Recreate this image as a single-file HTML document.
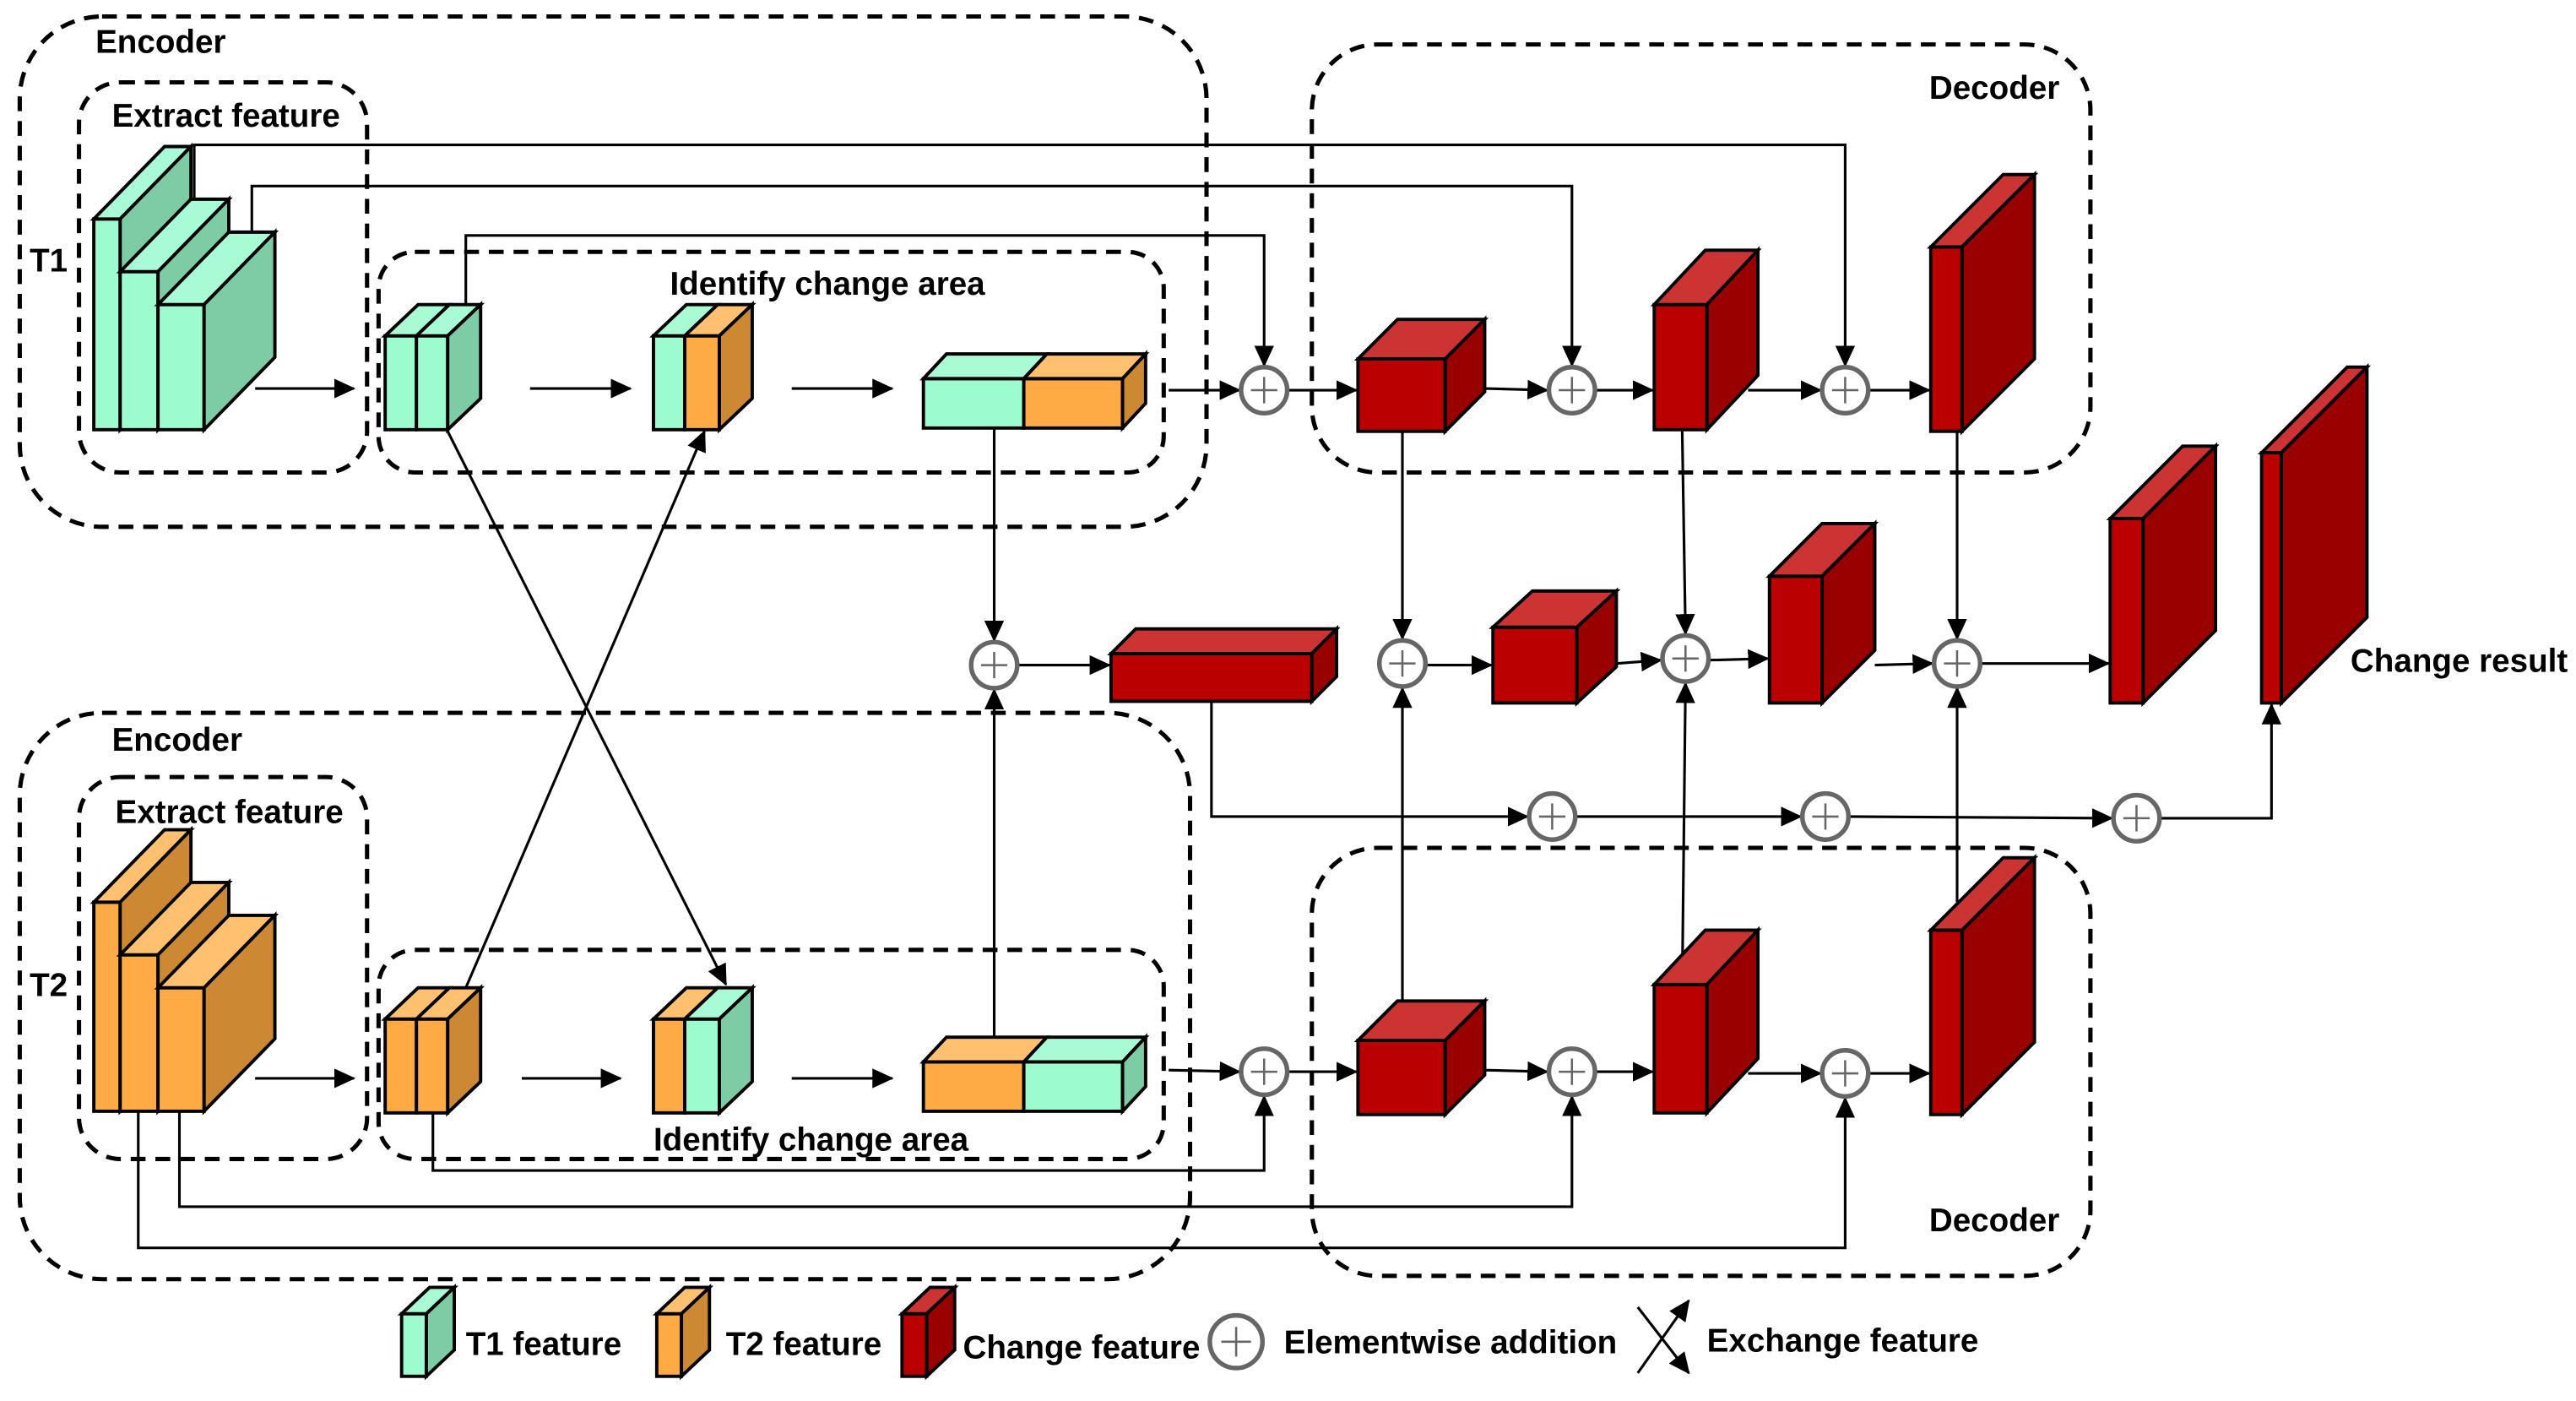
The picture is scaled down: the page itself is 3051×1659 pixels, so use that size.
<!DOCTYPE html>
<html><head><meta charset="utf-8"><style>
html,body{margin:0;padding:0;background:#fff;}
svg{display:block;}
text{font-family:"Liberation Sans",Arial,sans-serif;font-weight:bold;font-size:19.8px;fill:#000;}
</style></head><body>
<svg width="3051" height="1659" viewBox="0 0 1565 851" preserveAspectRatio="none" xmlns="http://www.w3.org/2000/svg">
<defs>
<marker id="a" markerUnits="userSpaceOnUse" markerWidth="14" markerHeight="12" refX="12" refY="6" orient="auto"><path d="M0,0 L13,6 L0,12 z" fill="#000"/></marker>
</defs>
<g fill="none" stroke="#000" stroke-width="2.6" stroke-dasharray="9 6">
<rect x="12" y="10" width="721" height="310" rx="50"/>
<rect x="48" y="50" width="175" height="237" rx="25"/>
<rect x="230" y="153" width="477" height="134" rx="22"/>
<rect x="797" y="27" width="473" height="260" rx="40"/>
<rect x="12" y="433" width="711" height="344" rx="50"/>
<rect x="48" y="472" width="175" height="232" rx="25"/>
<rect x="230" y="577" width="477" height="127" rx="22"/>
<rect x="797" y="515" width="473" height="260" rx="40"/>
</g>
<text x="58" y="32">Encoder</text>
<text x="68" y="77">Extract feature</text>
<text x="18" y="165">T1</text>
<text x="407" y="179">Identify change area</text>
<text x="1172" y="60">Decoder</text>
<text x="68" y="456">Encoder</text>
<text x="70" y="500">Extract feature</text>
<text x="18" y="605">T2</text>
<text x="397" y="699">Identify change area</text>
<text x="1172" y="748">Decoder</text>
<text x="1428" y="408">Change result</text>

<g fill="none" stroke="#000" stroke-width="1.6">
<polyline points="118,135 118,88 1121,88 1121,222" marker-end="url(#a)"/>
<polyline points="153,170 153,113 955,113 955,222" marker-end="url(#a)"/>
<polyline points="283,190 283,143 768,143 768,222" marker-end="url(#a)"/>
<line x1="155" y1="236" x2="215" y2="236" marker-end="url(#a)"/>
<line x1="322" y1="236" x2="383" y2="236" marker-end="url(#a)"/>
<line x1="481" y1="236" x2="542" y2="236" marker-end="url(#a)"/>
<line x1="710" y1="237" x2="753" y2="237" marker-end="url(#a)"/>
<line x1="782" y1="237" x2="824" y2="237" marker-end="url(#a)"/>
<line x1="902" y1="236" x2="940" y2="237" marker-end="url(#a)"/>
<line x1="969" y1="237" x2="1004" y2="237" marker-end="url(#a)"/>
<line x1="1062" y1="237" x2="1106" y2="237" marker-end="url(#a)"/>
<line x1="1135" y1="237" x2="1172" y2="237" marker-end="url(#a)"/>
<line x1="155" y1="655" x2="215" y2="655" marker-end="url(#a)"/>
<line x1="317" y1="655" x2="377" y2="655" marker-end="url(#a)"/>
<line x1="481" y1="655" x2="542" y2="655" marker-end="url(#a)"/>
<line x1="710" y1="650" x2="753" y2="651" marker-end="url(#a)"/>
<line x1="782" y1="651" x2="824" y2="651" marker-end="url(#a)"/>
<line x1="902" y1="650" x2="940" y2="651" marker-end="url(#a)"/>
<line x1="969" y1="651" x2="1004" y2="651" marker-end="url(#a)"/>
<line x1="1062" y1="652" x2="1106" y2="652" marker-end="url(#a)"/>
<line x1="1135" y1="652" x2="1172" y2="652" marker-end="url(#a)"/>
<polyline points="263,676 263,711 768,711 768,666" marker-end="url(#a)"/>
<polyline points="109,675 109,733 955,733 955,666" marker-end="url(#a)"/>
<polyline points="84,675 84,758 1121,758 1121,667" marker-end="url(#a)"/>
<line x1="272" y1="262" x2="441" y2="598" marker-end="url(#a)"/>
<line x1="283" y1="600" x2="428" y2="262" marker-end="url(#a)"/>
<line x1="604" y1="260" x2="604" y2="389" marker-end="url(#a)"/>
<line x1="604" y1="630" x2="604" y2="419" marker-end="url(#a)"/>
<line x1="619" y1="404" x2="674" y2="404" marker-end="url(#a)"/>
<line x1="852" y1="262" x2="852" y2="388" marker-end="url(#a)"/>
<line x1="852" y1="610" x2="852" y2="418" marker-end="url(#a)"/>
<line x1="1022" y1="262" x2="1024" y2="385" marker-end="url(#a)"/>
<line x1="1022" y1="598" x2="1024" y2="415" marker-end="url(#a)"/>
<line x1="1189" y1="262" x2="1189" y2="388" marker-end="url(#a)"/>
<line x1="1189" y1="548" x2="1189" y2="418" marker-end="url(#a)"/>
<line x1="866" y1="404" x2="906" y2="404" marker-end="url(#a)"/>
<line x1="982" y1="403" x2="1009" y2="401" marker-end="url(#a)"/>
<line x1="1038" y1="401" x2="1074" y2="400" marker-end="url(#a)"/>
<line x1="1139" y1="404" x2="1174" y2="403" marker-end="url(#a)"/>
<line x1="1203" y1="403" x2="1281" y2="403" marker-end="url(#a)"/>
<polyline points="736,426 736,496 928,496" marker-end="url(#a)"/>
<line x1="957" y1="496" x2="1094" y2="496" marker-end="url(#a)"/>
<line x1="1123" y1="496" x2="1283" y2="497" marker-end="url(#a)"/>
<polyline points="1312,497 1380,497 1380,428" marker-end="url(#a)"/>
<line x1="995" y1="794" x2="1026" y2="834" marker-end="url(#a)"/>
<line x1="995" y1="834" x2="1026" y2="790" marker-end="url(#a)"/>
</g>

<g fill="#fff" stroke="#666" stroke-width="2.8">
<circle cx="768" cy="237" r="14"/><circle cx="955" cy="237" r="14"/><circle cx="1121" cy="237" r="14"/>
<circle cx="768" cy="651" r="14"/><circle cx="955" cy="651" r="14"/><circle cx="1121" cy="652" r="14"/>
<circle cx="604" cy="404" r="14"/><circle cx="852" cy="403" r="14"/><circle cx="1024" cy="400" r="14"/><circle cx="1189" cy="403" r="14"/>
<circle cx="943" cy="496" r="14"/><circle cx="1109" cy="496" r="14"/><circle cx="1298" cy="497" r="14"/>
<circle cx="751" cy="815" r="16"/>
</g>
<g stroke="#666" stroke-width="1.3">
<path d="M760,237h16M768,229v16M947,237h16M955,229v16M1113,237h16M1121,229v16M760,651h16M768,643v16M947,651h16M955,643v16M1113,652h16M1121,644v16M596,404h16M604,396v16M844,403h16M852,395v16M1016,400h16M1024,392v16M1181,403h16M1189,395v16M935,496h16M943,488v16M1101,496h16M1109,488v16M1290,497h16M1298,489v16M742,815h18M751,806v18"/>
</g>

<g stroke="#000" stroke-width="2" stroke-linejoin="miter">
<rect x="57" y="133" width="16" height="128" fill="#9dfccf"/>
<polygon points="57,133 100,89 116,89 73,133" fill="#a8fbd5"/>
<polygon points="73,133 116,89 116,217 73,261" fill="#7dcca5"/>
<rect x="73" y="165" width="23" height="96" fill="#9dfccf"/>
<polygon points="73,165 116,121 139,121 96,165" fill="#a8fbd5"/>
<polygon points="96,165 139,121 139,217 96,261" fill="#7dcca5"/>
<rect x="96" y="185" width="28" height="76" fill="#9dfccf"/>
<polygon points="96,185 139,141 167,141 124,185" fill="#a8fbd5"/>
<polygon points="124,185 167,141 167,217 124,261" fill="#7dcca5"/>
<rect x="234" y="204" width="19" height="57" fill="#9dfccf"/><rect x="253" y="204" width="19" height="57" fill="#9dfccf"/>
<polygon points="234,204 254,185 273,185 253,204" fill="#a8fbd5"/><polygon points="253,204 273,185 292,185 272,204" fill="#a8fbd5"/>
<polygon points="272,204 292,185 292,242 272,261" fill="#7dcca5"/>
<rect x="397" y="204" width="19" height="57" fill="#9dfccf"/><rect x="416" y="204" width="21" height="57" fill="#ffab45"/>
<polygon points="397,204 417,185 436,185 416,204" fill="#a8fbd5"/><polygon points="416,204 436,185 457,185 437,204" fill="#ffc070"/>
<polygon points="437,204 457,185 457,242 437,261" fill="#cc8833"/>
<rect x="561" y="230" width="61" height="30" fill="#9dfccf"/><rect x="622" y="230" width="60" height="30" fill="#ffab45"/>
<polygon points="561,230 575,215 636,215 622,230" fill="#a8fbd5"/><polygon points="622,230 636,215 696,215 682,230" fill="#ffc070"/>
<polygon points="682,230 696,215 696,245 682,260" fill="#cc8833"/>
<rect x="57" y="548" width="16" height="127" fill="#ffab45"/>
<polygon points="57,548 100,504 116,504 73,548" fill="#ffc070"/>
<polygon points="73,548 116,504 116,631 73,675" fill="#cc8833"/>
<rect x="73" y="580" width="23" height="95" fill="#ffab45"/>
<polygon points="73,580 116,536 139,536 96,580" fill="#ffc070"/>
<polygon points="96,580 139,536 139,631 96,675" fill="#cc8833"/>
<rect x="96" y="600" width="28" height="75" fill="#ffab45"/>
<polygon points="96,600 139,556 167,556 124,600" fill="#ffc070"/>
<polygon points="124,600 167,556 167,631 124,675" fill="#cc8833"/>
<rect x="234" y="619" width="19" height="57" fill="#ffab45"/><rect x="253" y="619" width="19" height="57" fill="#ffab45"/>
<polygon points="234,619 254,600 273,600 253,619" fill="#ffc070"/><polygon points="253,619 273,600 292,600 272,619" fill="#ffc070"/>
<polygon points="272,619 292,600 292,657 272,676" fill="#cc8833"/>
<rect x="397" y="619" width="19" height="57" fill="#ffab45"/><rect x="416" y="619" width="21" height="57" fill="#9dfccf"/>
<polygon points="397,619 417,600 436,600 416,619" fill="#ffc070"/><polygon points="416,619 436,600 457,600 437,619" fill="#a8fbd5"/>
<polygon points="437,619 457,600 457,657 437,676" fill="#7dcca5"/>
<rect x="561" y="645" width="61" height="30" fill="#ffab45"/><rect x="622" y="645" width="60" height="30" fill="#9dfccf"/>
<polygon points="561,645 575,630 636,630 622,645" fill="#ffc070"/><polygon points="622,645 636,630 696,630 682,645" fill="#a8fbd5"/>
<polygon points="682,645 696,630 696,660 682,675" fill="#7dcca5"/>
</g>
<g stroke="#000" stroke-width="2">
<rect x="825" y="218" width="53" height="44" fill="#bb0000"/><polygon points="825,218 849,194 902,194 878,218" fill="#cc3333"/><polygon points="878,218 902,194 902,238 878,262" fill="#990000"/>
<rect x="1005" y="185" width="32" height="76" fill="#bb0000"/><polygon points="1005,185 1036,152 1068,152 1037,185" fill="#cc3333"/><polygon points="1037,185 1068,152 1068,228 1037,261" fill="#990000"/>
<rect x="1173" y="150" width="19" height="112" fill="#bb0000"/><polygon points="1173,150 1217,106 1236,106 1192,150" fill="#cc3333"/><polygon points="1192,150 1236,106 1236,218 1192,262" fill="#990000"/>
<rect x="825" y="632" width="53" height="45" fill="#bb0000"/><polygon points="825,632 849,608 902,608 878,632" fill="#cc3333"/><polygon points="878,632 902,608 902,653 878,677" fill="#990000"/>
<rect x="1005" y="598" width="32" height="78" fill="#bb0000"/><polygon points="1005,598 1036,565 1068,565 1037,598" fill="#cc3333"/><polygon points="1037,598 1068,565 1068,643 1037,676" fill="#990000"/>
<rect x="1173" y="565" width="19" height="112" fill="#bb0000"/><polygon points="1173,565 1217,521 1236,521 1192,565" fill="#cc3333"/><polygon points="1192,565 1236,521 1236,633 1192,677" fill="#990000"/>
<rect x="675" y="397" width="122" height="29" fill="#bb0000"/><polygon points="675,397 690,382 812,382 797,397" fill="#cc3333"/><polygon points="797,397 812,382 812,411 797,426" fill="#990000"/>
<rect x="907" y="381" width="51" height="46" fill="#bb0000"/><polygon points="907,381 931,359 982,359 958,381" fill="#cc3333"/><polygon points="958,381 982,359 982,405 958,427" fill="#990000"/>
<rect x="1075" y="350" width="32" height="77" fill="#bb0000"/><polygon points="1075,350 1107,318 1139,318 1107,350" fill="#cc3333"/><polygon points="1107,350 1139,318 1139,395 1107,427" fill="#990000"/>
<rect x="1282" y="315" width="20" height="112" fill="#bb0000"/><polygon points="1282,315 1326,271 1346,271 1302,315" fill="#cc3333"/><polygon points="1302,315 1346,271 1346,383 1302,427" fill="#990000"/>
<rect x="1374" y="275" width="12" height="152" fill="#bb0000"/><polygon points="1374,275 1426,223 1438,223 1386,275" fill="#cc3333"/><polygon points="1386,275 1438,223 1438,375 1386,427" fill="#990000"/>
<rect x="244" y="798" width="15" height="38" fill="#9dfccf"/><polygon points="244,798 261,782 276,782 259,798" fill="#a8fbd5"/><polygon points="259,798 276,782 276,820 259,836" fill="#7dcca5"/>
<rect x="399" y="798" width="15" height="38" fill="#ffab45"/><polygon points="399,798 416,782 431,782 414,798" fill="#ffc070"/><polygon points="414,798 431,782 431,820 414,836" fill="#cc8833"/>
<rect x="548" y="798" width="15" height="38" fill="#bb0000"/><polygon points="548,798 565,782 580,782 563,798" fill="#cc3333"/><polygon points="563,798 580,782 580,820 563,836" fill="#990000"/>
</g>
<text x="283" y="823">T1 feature</text>
<text x="441" y="823">T2 feature</text>
<text x="585" y="825">Change feature</text>
<text x="780" y="822">Elementwise addition</text>
<text x="1037" y="821">Exchange feature</text>
</svg>
</body></html>
